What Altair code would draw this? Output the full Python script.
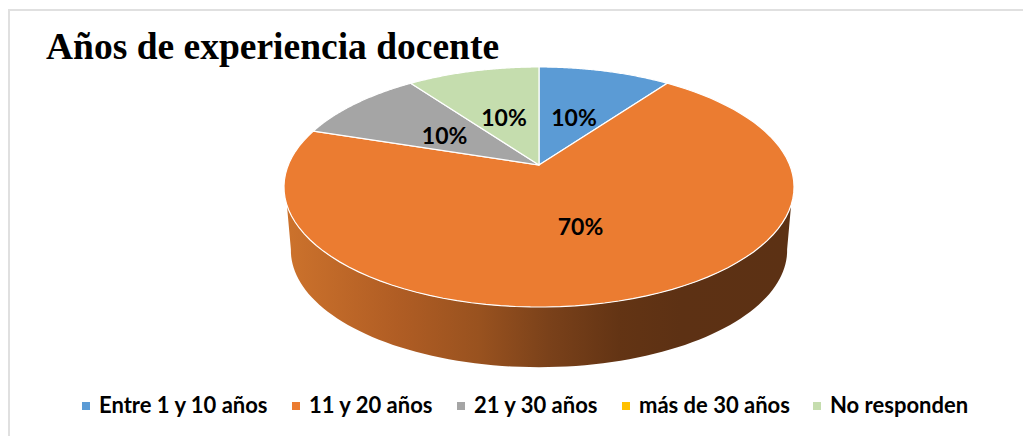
import math
import altair as alt
import pandas as pd

CATEGORIES = ["Entre 1 y 10 años", "11 y 20 años", "21 y 30 años", "más de 30 años", "No responden"]
VALUES = [10, 70, 10, 0, 10]
COLORS = ["#5B9BD5", "#EB7C31", "#A5A5A5", "#FFC000", "#C5DDAE"]
TITLE = "Años de experiencia docente"

# Pie geometry in pixels, relative to the pie's centre (perspective view of a disc)
WIDTH, HEIGHT = 1015, 428
CX, CY = 539 - 8, 165 - 8
A, B, K = 250.7, 116.0, 0.1833
LOWER_SCALE, LOWER_DROP = 0.973, 64.0


def project(theta_deg, r=1.0):
    t = math.radians(theta_deg)
    u, v = r * math.sin(t), r * math.cos(t)
    w = 1 + K * v
    return [A * u / w, -B * v / w]


def lower(theta_deg):
    x, y = project(theta_deg)
    return [LOWER_SCALE * x, LOWER_SCALE * y + LOWER_DROP]


def steps(a, b, n=90):
    return [a + (b - a) * i / n for i in range(n + 1)]


def feature(ring, **props):
    ring = ring + [ring[0]]
    return {"type": "Feature", "properties": props,
            "geometry": {"type": "Polygon", "coordinates": [ring]}}


slices, labels = [], []
total = sum(VALUES)
start = 0.0
for cat, val in zip(CATEGORIES, VALUES):
    sweep = 360.0 * val / total
    if val > 0:
        arc = [project(a) for a in steps(start, start + sweep)]
        slices.append(feature([[0.0, 0.0]] + arc, categoria=cat))
        lon, lat = project(start + sweep / 2, 0.49)
        labels.append({"lon": lon, "lat": lat, "texto": f"{round(100 * val / total)}%"})
    start += sweep

side_ring = [project(a) for a in steps(251, 109)] + [lower(a) for a in steps(100, 260)]
side = [feature(side_ring, categoria="lado")]

PROJ = dict(type="identity", scale=1, translate=[CX, CY])

gradient = alt.LinearGradient(
    gradient="linear", x1=0, x2=1, y1=0, y2=0,
    stops=[
        alt.GradientStop(color="#CC722C", offset=0),
        alt.GradientStop(color="#B05D24", offset=0.22),
        alt.GradientStop(color="#99521F", offset=0.38),
        alt.GradientStop(color="#7A411A", offset=0.52),
        alt.GradientStop(color="#633414", offset=0.66),
        alt.GradientStop(color="#5D3114", offset=0.78),
        alt.GradientStop(color="#5C3114", offset=1),
    ],
)

side_layer = alt.Chart(alt.Data(values=side)).mark_geoshape(fill=gradient, stroke=None, strokeWidth=0).project(**PROJ)

top_layer = (
    alt.Chart(alt.Data(values=slices))
    .mark_geoshape(stroke="#FFFFFF", strokeWidth=1.2)
    .encode(
        color=alt.Color(
            "properties.categoria:N",
            scale=alt.Scale(domain=CATEGORIES, range=COLORS),
            legend=alt.Legend(
                title=None, orient="none", legendX=67, legendY=387,
                direction="horizontal", columns=5, columnPadding=16,
                labelFont="Lato", labelFontSize=22, labelFontWeight="bold", labelColor="#000000",
                labelOffset=2, labelLimit=400, symbolType="square", symbolSize=64, symbolStrokeWidth=0,
            ),
        )
    )
    .project(**PROJ)
)

label_layer = (
    alt.Chart(pd.DataFrame(labels))
    .mark_text(font="Lato", fontSize=23, fontWeight="bold", color="#000000", baseline="middle", align="center", dy=4)
    .encode(longitude="lon:Q", latitude="lat:Q", text="texto:N")
    .project(**PROJ)
)

one = pd.DataFrame({"a": [1]})
frame_top = alt.Chart(one).mark_rule(color="#E0E0E0", strokeWidth=2).encode(
    x=alt.value(0), x2=alt.value(WIDTH), y=alt.value(2))
frame_left = alt.Chart(one).mark_rule(color="#E0E0E0", strokeWidth=2).encode(
    x=alt.value(1), y=alt.value(1), y2=alt.value(HEIGHT))

chart = (
    alt.layer(frame_top, frame_left, side_layer, top_layer, label_layer)
    .properties(
        width=WIDTH, height=HEIGHT, padding=0,
        autosize=alt.AutoSizeParams(type="none"),
        background="#FFFFFF",
        title=alt.TitleParams(
            TITLE, anchor="start", frame="group", font="Liberation Serif", fontSize=37.5,
            fontWeight="bold", color="#000000", dx=38, dy=88, baseline="alphabetic", offset=0,
        ),
    )
    .configure_view(stroke=None)
)

chart.save("out.html", embed_options={"renderer": "svg", "actions": False})
